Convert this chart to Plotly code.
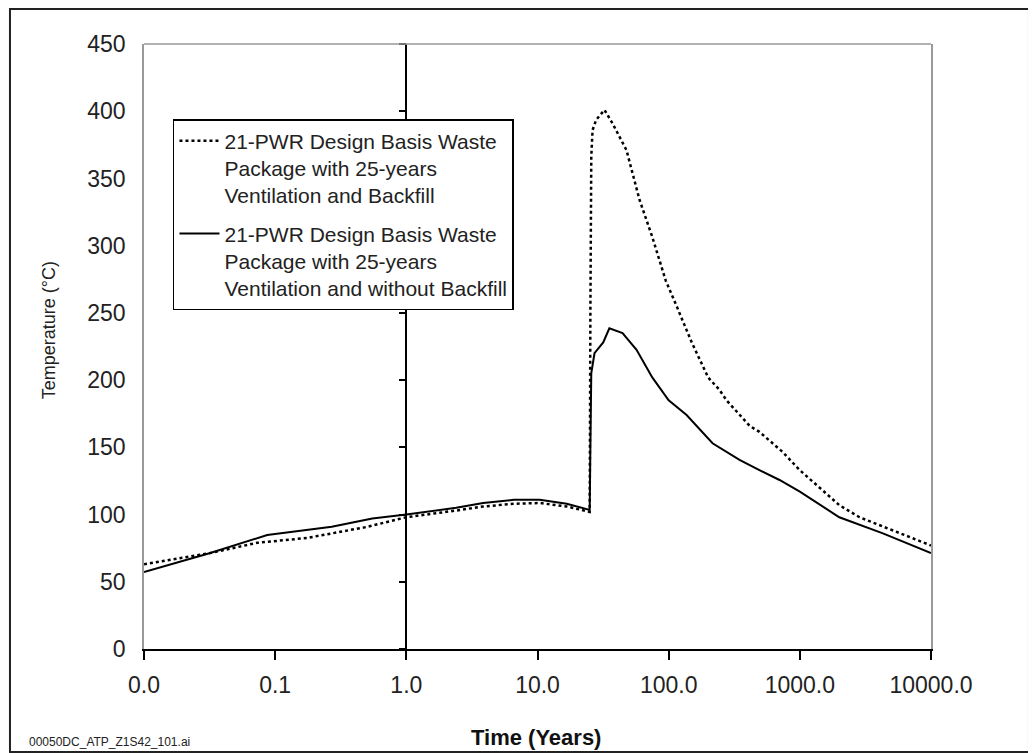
import plotly.graph_objects as go

# ---- data ----
time_backfill = [0.01, 0.032, 0.073, 0.175, 0.5, 1, 2.4, 3.85, 6.6, 10.4, 16.7, 25, 25.3, 25.7,
                 26.3, 28, 32.4, 37.3, 47.7, 60, 75, 95, 115, 150, 200, 244, 276, 414, 492, 740,
                 1000, 2000, 2850, 5400, 10000]
temp_backfill = [63, 71.4, 79, 82.6, 90.8, 98, 103, 106, 108, 108.6, 106, 102, 250, 366,
                 386, 393.6, 401, 391, 371, 334, 306.5, 274, 255, 228, 202, 192.7, 185, 166, 161.5, 146.5,
                 133, 107, 98, 87, 77]

time_nobackfill = [0.01, 0.032, 0.087, 0.27, 0.55, 1, 2.4, 3.85, 6.6, 10.4, 16.7, 25, 25.3, 25.7,
                   27.2, 31.7, 35.3, 44.5, 56.9, 75, 100, 137, 216, 347, 492, 700, 1000, 2000, 4300, 10000]
temp_nobackfill = [57.3, 71.4, 84.8, 91, 97, 100, 105, 108.6, 111, 111, 108, 103.5, 150, 205,
                   220, 228, 238.5, 235, 222.5, 202, 185, 174, 153, 140.6, 133, 125.7, 117, 98, 86, 71.4]

x_tickvals = [0.01, 0.1, 1, 10, 100, 1000, 10000]
x_ticktext = ["0.0", "0.1", "1.0", "10.0", "100.0", "1000.0", "10000.0"]
y_tickvals = [0, 50, 100, 150, 200, 250, 300, 350, 400, 450]

name_backfill = "21-PWR Design Basis Waste<br>Package with 25-years<br>Ventilation and Backfill"
name_nobackfill = "21-PWR Design Basis Waste<br>Package with 25-years<br>Ventilation and without Backfill"

FONT = "Liberation Sans, Arial, sans-serif"

fig = go.Figure()
fig.add_trace(go.Scatter(x=time_backfill, y=temp_backfill, mode="lines", name=name_backfill,
                         legendgroup="a",
                         line=dict(color="black", width=2.5, dash="dot")))
fig.add_trace(go.Scatter(x=time_nobackfill, y=temp_nobackfill, mode="lines", name=name_nobackfill,
                         legendgroup="b", yaxis="y2",
                         line=dict(color="black", width=2)))

fig.update_layout(
    width=1028, height=745,
    margin=dict(l=136, r=105, t=36, b=104),
    paper_bgcolor="white", plot_bgcolor="white",
    font=dict(family=FONT, color="#222"),
    xaxis=dict(type="log", range=[-2, 4], tickvals=x_tickvals, ticktext=x_ticktext,
               ticks="outside", ticklen=9, tickwidth=1.5, tickcolor="black",
               showline=True, linecolor="black", linewidth=2,
               showgrid=False, zeroline=False, ticklabelstandoff=5,
               tickfont=dict(size=23, family=FONT, color="#222")),
    yaxis=dict(range=[0, 450], tickvals=y_tickvals, ticks="",
               showline=True, linecolor="#999", linewidth=1.5, mirror=True,
               showgrid=False, zeroline=False, ticklabelstandoff=12,
               tickfont=dict(size=23, family=FONT, color="#222")),
    yaxis2=dict(range=[0, 450], tickvals=y_tickvals, overlaying="y", anchor="free",
                position=1/3, side="left", showticklabels=False,
                ticks="outside", ticklen=7, tickwidth=1.5, tickcolor="black",
                showline=True, linecolor="black", linewidth=1.5,
                showgrid=False, zeroline=False),
    legend=dict(x=0.0368, y=0.876, xanchor="left", yanchor="top",
                bgcolor="white", bordercolor="black", borderwidth=1.5,
                font=dict(size=21, family=FONT, color="#222"),
                tracegroupgap=8, valign="top", itemwidth=40),
    showlegend=True,
)

fig.add_shape(type="line", xref="paper", yref="paper", x0=0, x1=1, y0=1, y1=1,
              line=dict(color="#999", width=1.5))
fig.add_shape(type="rect", xref="paper", yref="paper", x0=-0.1703, x1=1.1245, y0=-0.1702, y1=1.0579,
              line=dict(color="#222", width=2))

fig.add_annotation(text="Temperature (°C)", xref="paper", yref="paper", x=-0.1207, y=0.527,
                   xanchor="center", yanchor="middle",
                   textangle=-90, showarrow=False, font=dict(size=18, family=FONT, color="#222"))
fig.add_annotation(text="<b>Time (Years)</b>", xref="paper", yref="paper", x=0.4987, y=-0.1455,
                   xanchor="center", yanchor="middle",
                   showarrow=False, font=dict(size=22, family=FONT, color="#111"))
fig.add_annotation(text="00050DC_ATP_Z1S42_101.ai", xref="paper", yref="paper", x=-0.1487, y=-0.1537,
                   xanchor="left", yanchor="middle",
                   showarrow=False, font=dict(size=12, family=FONT, color="#222"))

fig.write_html("out.html")
